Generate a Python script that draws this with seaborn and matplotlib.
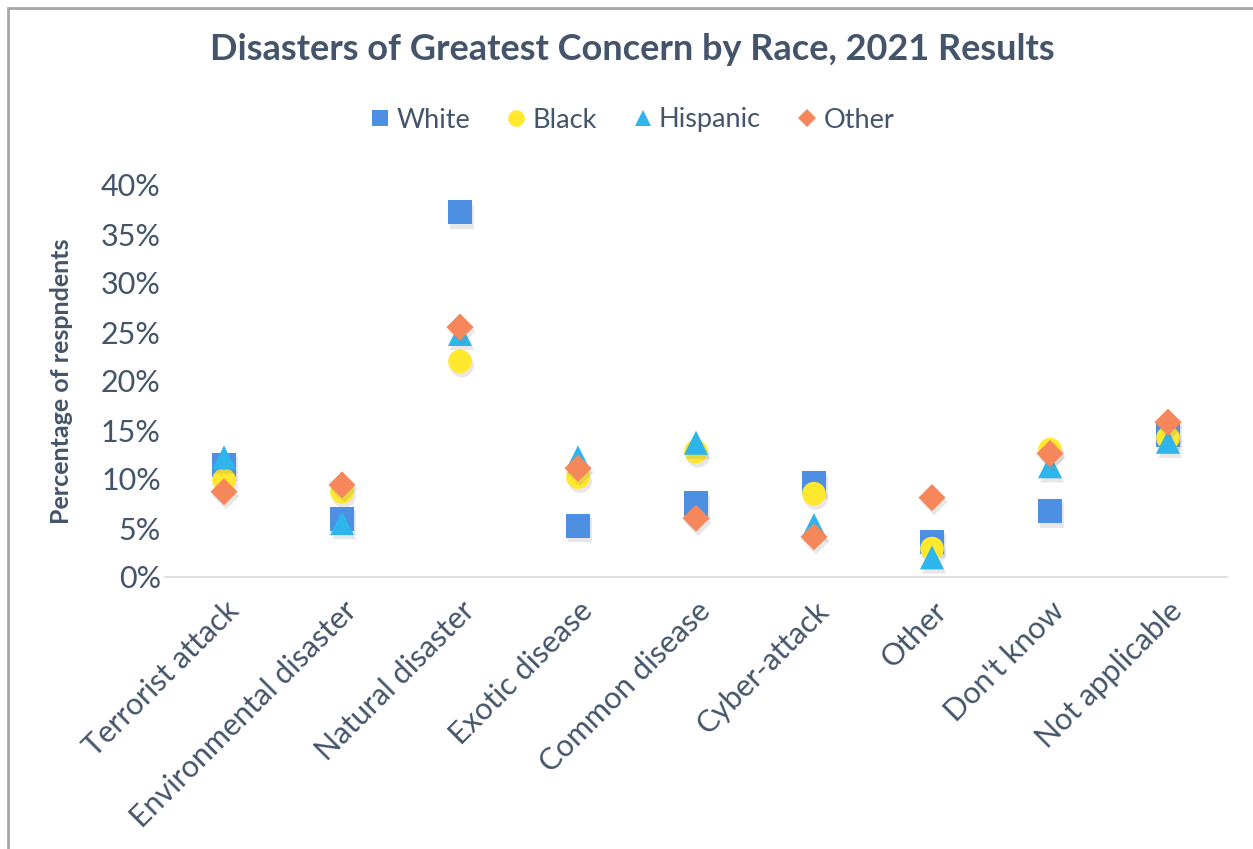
import matplotlib
matplotlib.use("Agg")
import matplotlib.pyplot as plt
import matplotlib.patheffects as pe
from matplotlib.patches import Rectangle
from matplotlib.lines import Line2D
import seaborn as sns
import pandas as pd

categories = ["Terrorist attack", "Environmental disaster", "Natural disaster",
              "Exotic disease", "Common disease", "Cyber-attack", "Other",
              "Don't know", "Not applicable"]
white = [11.4, 5.9, 37.2, 5.2, 7.5, 9.6, 3.6, 6.7, 14.5]
black = [9.9, 8.7, 22.0, 10.2, 12.8, 8.5, 2.9, 13.0, 14.2]
hispanic = [12.2, 5.5, 24.8, 12.2, 13.7, 5.3, 2.0, 11.3, 13.8]
other = [8.7, 9.4, 25.5, 11.1, 6.0, 4.1, 8.1, 12.6, 15.8]

groups = ["White", "Black", "Hispanic", "Other"]
series = [white, black, hispanic, other]

df = pd.DataFrame({
    "category": categories * len(groups),
    "group": [g for g in groups for _ in categories],
    "value": [v for s in series for v in s],
})

colors = {"White": "#4D8FE3", "Black": "#FFE82E", "Hispanic": "#2DB5EC", "Other": "#F5875A"}
markers = {"White": "s", "Black": "o", "Hispanic": "^", "Other": "D"}
sizes = {"White": 300, "Black": 290, "Hispanic": 300, "Other": 190}
text_color = "#44546A"
font = ["Lato", "DejaVu Sans"]

sns.set_style("white")
plt.rcParams["font.family"] = font

fig = plt.figure(figsize=(12.53, 8.49), dpi=100)
ax = fig.add_axes([165 / 1253, 1 - 577 / 849, (1227 - 165) / 1253, (577 - 185) / 849])

# outer chart frame
fig.patches.append(Rectangle((8 / 1253, -0.1), 1.2, 1 - 8 / 849 + 0.1,
                             transform=fig.transFigure, fill=False,
                             edgecolor="#A6A6A6", linewidth=2.0, zorder=0))

for g in groups:
    sub = df[df["group"] == g]
    sns.scatterplot(data=sub, x="category", y="value", marker=markers[g],
                    color=colors[g], s=sizes[g], linewidth=0, ax=ax,
                    zorder=3, legend=False)
for coll in ax.collections:
    coll.set_path_effects([pe.SimplePatchShadow(offset=(1.5, -3), shadow_rgbFace="#8a8a8a", alpha=0.2),
                           pe.Normal()])

ax.set_xlim(-0.5, len(categories) - 0.5)
ax.set_ylim(0, 40)
ax.set_yticks(range(0, 41, 5))
ax.set_yticklabels([f"{t}%" for t in range(0, 41, 5)], fontsize=22, color=text_color)
ax.set_xticks(range(len(categories)))
ax.set_xticklabels(categories, rotation=45, ha="right", rotation_mode="anchor",
                   fontsize=22, color=text_color)
ax.tick_params(axis="y", length=0, pad=3)
ax.tick_params(axis="x", length=0, pad=14)
ax.set_xlabel("")
ax.set_ylabel("Percentage of respndents", fontsize=18, fontweight="bold",
              color=text_color, labelpad=20)
for side in ["top", "right", "left"]:
    ax.spines[side].set_visible(False)
ax.spines["bottom"].set_color("#D9D9D9")
ax.spines["bottom"].set_linewidth(1.2)

fig.text(0.505, 1 - 50 / 849, "Disasters of Greatest Concern by Race, 2021 Results",
         ha="center", va="center", fontsize=26, fontweight="bold", color=text_color)

handles = [Line2D([], [], linestyle="none", marker=markers[g], markerfacecolor=colors[g],
                  markeredgewidth=0, markersize=12 if g != "Other" else 9) for g in groups]
leg = fig.legend(handles, groups, loc="center", bbox_to_anchor=(0.503, 1 - 120 / 849),
                 ncol=4, frameon=False, fontsize=19.5, handletextpad=0.1,
                 columnspacing=1.2, handlelength=1.0)
for t in leg.get_texts():
    t.set_color(text_color)

fig.savefig("out.png", dpi=100, facecolor="white")
